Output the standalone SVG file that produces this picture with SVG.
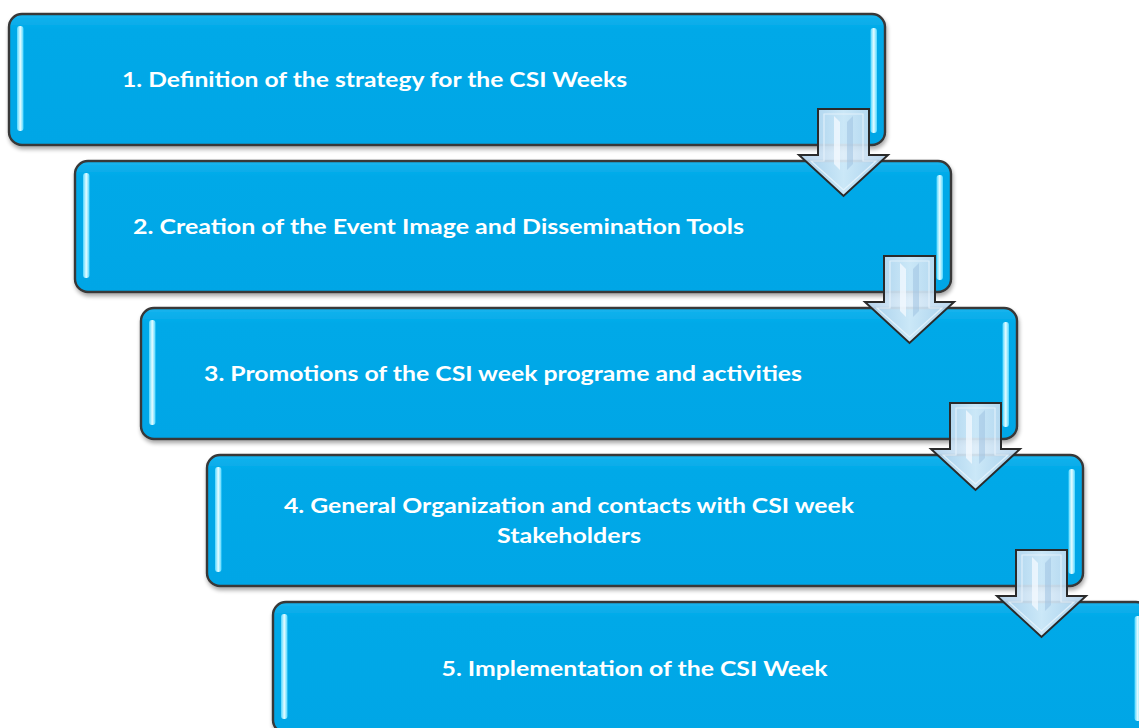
<svg xmlns="http://www.w3.org/2000/svg" width="1139" height="728" viewBox="0 0 1139 728">
  <defs>
    <linearGradient id="boxFill" x1="0" y1="0" x2="0" y2="1">
      <stop offset="0" stop-color="#17B4EE"/>
      <stop offset="0.12" stop-color="#00A9E8"/>
      <stop offset="1" stop-color="#00A6E6"/>
    </linearGradient>
    <linearGradient id="glint" x1="0" y1="0" x2="1" y2="0">
      <stop offset="0" stop-color="#4FD6FF"/>
      <stop offset="0.5" stop-color="#E6FCFF"/>
      <stop offset="1" stop-color="#4FD6FF"/>
    </linearGradient>
    <linearGradient id="arrowFill" x1="0" y1="0" x2="1" y2="0">
      <stop offset="0" stop-color="#AFCFEA"/>
      <stop offset="0.5" stop-color="#DCEDF9"/>
      <stop offset="1" stop-color="#B2D1EB"/>
    </linearGradient>
    <filter id="shadow" x="-5%" y="-10%" width="110%" height="125%">
      <feGaussianBlur in="SourceAlpha" stdDeviation="2"/>
      <feOffset dx="1" dy="3" result="b"/>
      <feComponentTransfer><feFuncA type="linear" slope="0.35"/></feComponentTransfer>
      <feMerge><feMergeNode/><feMergeNode in="SourceGraphic"/></feMerge>
    </filter>
    <!-- one step box, positioned with translate -->
    <g id="stepBox">
      <rect x="0" y="0" width="876" height="131" rx="13" ry="13" fill="url(#boxFill)" stroke="#383838" stroke-width="2.4" filter="url(#shadow)"/>
      <rect x="8" y="12" width="6.5" height="105" rx="3" fill="url(#glint)"/>
      <rect x="861.5" y="14" width="6.5" height="105" rx="3" fill="url(#glint)"/>
    </g>
    <!-- down arrow between steps -->
    <g id="downArrow">
      <path d="M818,109 H869 V155 H888 L843.5,196 L799,155 H818 Z" fill="url(#arrowFill)" fill-opacity="0.92" stroke="#2A2A2A" stroke-width="2" stroke-linejoin="miter"/>
      <path d="M824,114 H863 V161 H876 L843.5,190 L811,161 H824 Z" fill="none" stroke="#EAF5FD" stroke-width="1.2" stroke-opacity="0.8"/>
      <path d="M834,116 L840,122 V170 L834,164 Z" fill="#F4FAFF" fill-opacity="0.75"/>
      <path d="M853,116 L847,122 V170 L853,164 Z" fill="#9CC0E0" fill-opacity="0.5"/>
    </g>
  </defs>
  <style>
    .label { font-family: Lato, "Open Sans", "Liberation Sans", sans-serif; font-weight: bold; font-size: 21px; fill: #FFFFFF; text-anchor: middle; }
  </style>

  <g id="step1"><use href="#stepBox" transform="translate(9,14)"/></g>
  <g id="step2"><use href="#stepBox" transform="translate(75,161)"/></g>
  <g id="step3"><use href="#stepBox" transform="translate(141,308)"/></g>
  <g id="step4"><use href="#stepBox" transform="translate(207,455)"/></g>
  <g id="step5"><use href="#stepBox" transform="translate(273,602)"/></g>

  <g id="connectors">
    <use href="#downArrow"/>
    <use href="#downArrow" transform="translate(66,147)"/>
    <use href="#downArrow" transform="translate(132,294)"/>
    <use href="#downArrow" transform="translate(198,441)"/>
  </g>

  <g id="labels">
    <text class="label" x="374.5" y="87" textLength="505" lengthAdjust="spacingAndGlyphs">1. Definition of the strategy for the CSI Weeks</text>
    <text class="label" x="438.5" y="234" textLength="611" lengthAdjust="spacingAndGlyphs">2. Creation of the Event Image and Dissemination Tools</text>
    <text class="label" x="503" y="381" textLength="598" lengthAdjust="spacingAndGlyphs">3. Promotions of the CSI week programe and activities</text>
    <text class="label" x="569" y="513" textLength="570" lengthAdjust="spacingAndGlyphs">4. General Organization and contacts with CSI week</text>
    <text class="label" x="569" y="543" textLength="144" lengthAdjust="spacingAndGlyphs">Stakeholders</text>
    <text class="label" x="634.5" y="676" textLength="386" lengthAdjust="spacingAndGlyphs">5. Implementation of the CSI Week</text>
  </g>
</svg>
